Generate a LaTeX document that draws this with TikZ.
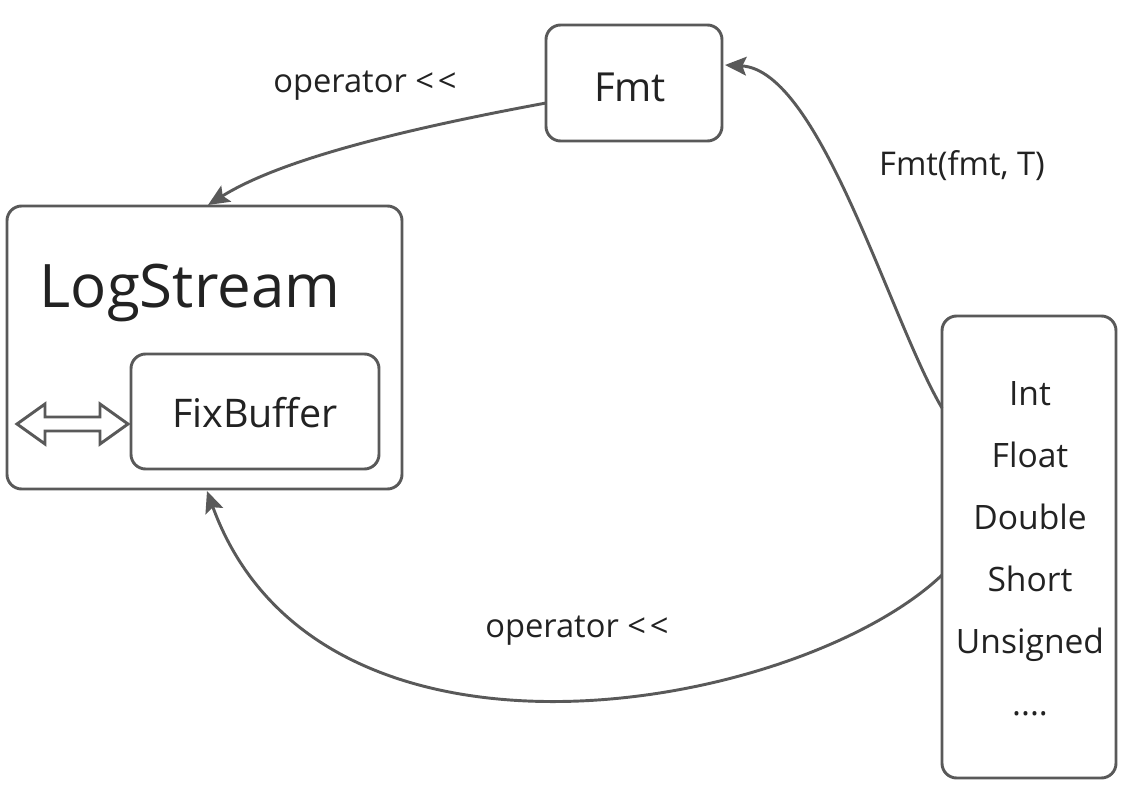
\documentclass[tikz,border=0pt]{standalone}
\usepackage{fontspec}
\setmainfont{Open Sans}
\usetikzlibrary{arrows.meta}
\definecolor{linec}{HTML}{595959}
\definecolor{textc}{HTML}{222222}
\tikzset{
  box/.style={draw=linec, line width=2.2pt, rounded corners=11pt, inner sep=0pt},
  conn/.style={draw=linec, line width=2.2pt, -{Stealth[length=16pt,width=14pt,inset=3pt]}},
  lbl/.style={text=textc, font=\fontsize{24.5}{29}\selectfont, inner sep=0pt},
}
\newcommand{\shl}{<\hspace{3pt}<}
\begin{document}
\begin{tikzpicture}[x=0.75pt,y=-0.75pt]
\useasboundingbox (0,0) rectangle (1125,785);
% boxes
\draw[box] (546,25) rectangle (722,141);
\node[text=textc, font=\fontsize{30}{36}\selectfont] (fmt) at (630,87) {Fmt};
\coordinate (fmtW) at (546,103);
\coordinate (fmtE) at (725,65);

\draw[box] (7,206) rectangle (402,489);
\node[text=textc, font=\fontsize{45}{54}\selectfont, anchor=base west] (ls) at (35,307) {LogStream};
\coordinate (lsT) at (208,205);
\coordinate (lsB) at (207,491);

\draw[box] (131,354) rectangle (379,469);
\node[text=textc, font=\fontsize{29.6}{36}\selectfont] (fb) at (255,413) {FixBuffer};

\draw[box] (942,316) rectangle (1116,778);
\node[text=textc, font=\fontsize{25.2}{46.5}\selectfont, align=center] (types) at (1030,549)
  {Int\\Float\\Double\\Short\\Unsigned\\....};
\coordinate (tA) at (942,408);
\coordinate (tB) at (942,575);

% hollow double arrow
\draw[linec, line width=2.2pt, line join=miter, fill=white]
  (17,424) -- (45,404) -- (45,417) -- (100,417) -- (100,404) -- (128,424)
  -- (100,444) -- (100,431) -- (45,431) -- (45,444) -- cycle;

% connectors
\draw[conn] (fmtW) .. controls (400,130) and (280,160) .. (lsT);
\draw[conn] (tA) .. controls (890,320) and (820,70) .. (fmtE);
\draw[conn] (tB) .. controls (800,710) and (320,800) .. (lsB);

% labels
\node[lbl] (l1) at (365,86) {operator \shl};
\node[lbl] (l2) at (962,166) {Fmt(fmt, T)};
\node[lbl] (l3) at (577,631) {operator \shl};
\end{tikzpicture}
\end{document}
